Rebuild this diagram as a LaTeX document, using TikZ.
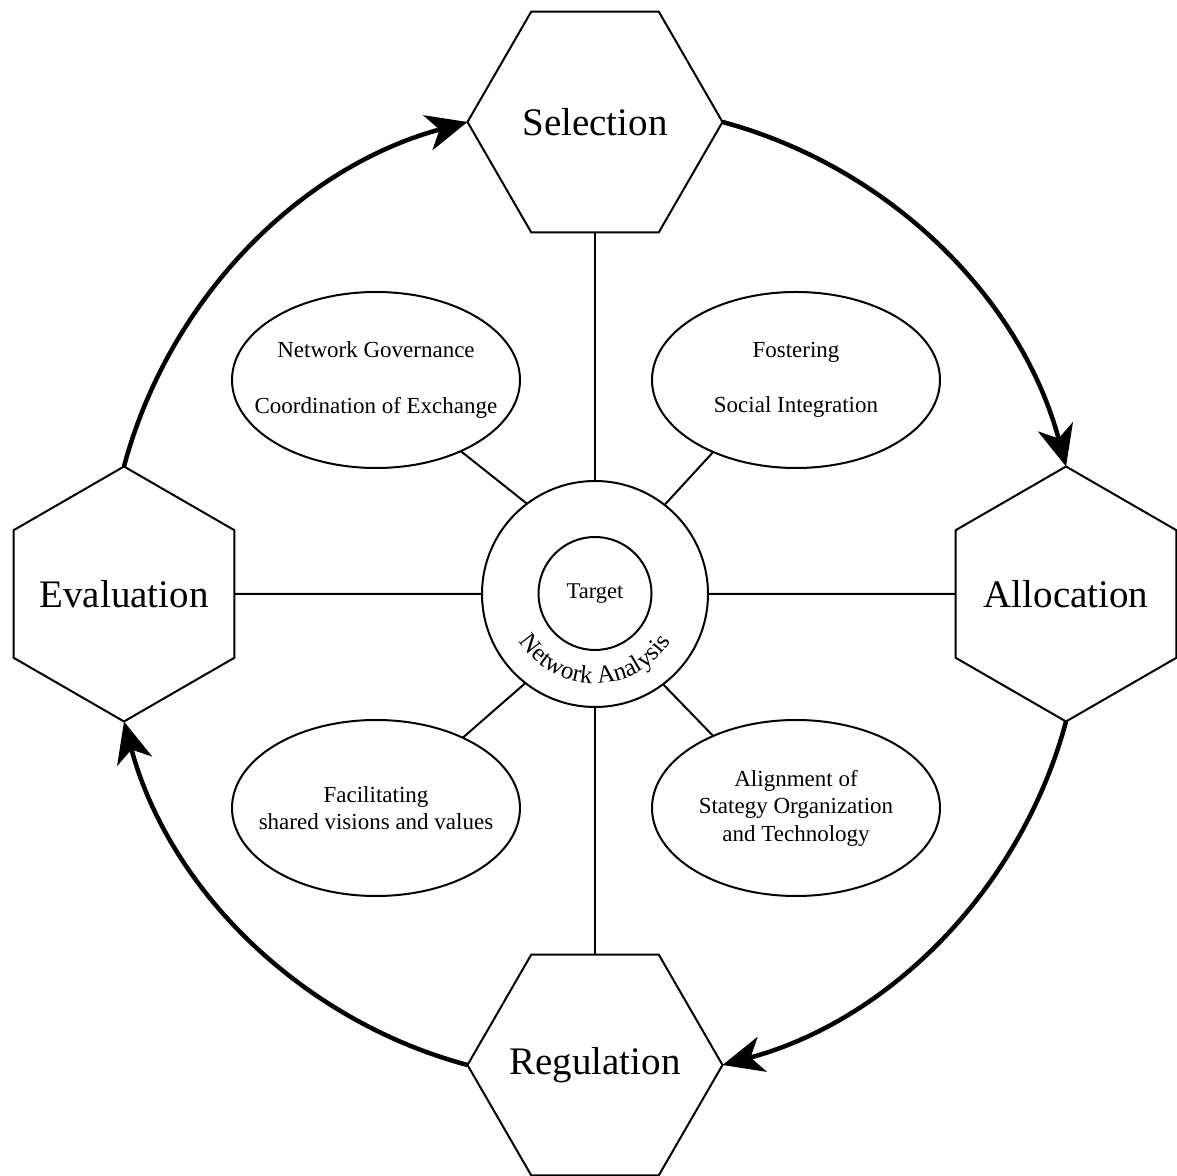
\documentclass[tikz,border=0pt]{standalone}
\usepackage{fontspec}
\setmainfont{Liberation Serif}
\usetikzlibrary{shapes.geometric, arrows.meta, decorations.text}

\begin{document}
\begin{tikzpicture}[x=1pt, y=1pt,
  hexa/.style={draw, line width=2pt, regular polygon, regular polygon sides=6,
    minimum size=255pt, inner sep=-40pt, outer sep=0pt,
    font=\fontsize{39}{39}\selectfont},
  upright/.style={shape border rotate=90},
  bubble/.style={draw, line width=2pt, ellipse, minimum width=288pt,
    minimum height=176pt, inner xsep=-40pt, inner ysep=0pt, outer sep=0pt,
    align=center, font=\fontsize{23}{27.6}\selectfont},
  ring/.style={draw, line width=2pt, circle, inner sep=0pt, outer sep=0pt},
  spoke/.style={line width=2pt},
  cyclearrow/.style={line width=4.5pt,
    -{Stealth[length=41pt, width=36pt, inset=12pt]},
    bend left=30, looseness=0.91}
]
% canvas
\fill[white] (0,0) rectangle (1177,1175);
\useasboundingbox (0,0) rectangle (1177,1175);

% central rings
\node[ring, minimum size=226pt] (na) at (595,581) {};
\node[ring, minimum size=113pt, font=\fontsize{22.5}{22.5}\selectfont] (tg) at (595,581.5) {Target};
\path[decorate, decoration={text along path, text align=center,
    text={|\fontsize{25}{25}\selectfont|Network Analysis}}]
  ([shift={(200:89.5pt)}]na.center) arc[start angle=200, end angle=340, radius=89.5pt];

% the four stages
\node[hexa] (sel) at (595,1053) {Selection};
\node[hexa] (reg) at (595,110) {Regulation};
\node[hexa, upright] (eval) at (124,581) {Evaluation};
\node[hexa, upright] (alloc) at (1066,581) {Allocation};

% the four goals
\node[bubble] (tl) at (376,795) {Network Governance\\[28pt]Coordination of Exchange};
\node[bubble] (tr) at (796,795) {Fostering\\[28pt]Social Integration};
\node[bubble] (bl) at (376,367) {Facilitating\\shared visions and values};
\node[bubble] (br) at (796,367) {Alignment of\\Stategy Organization\\and Technology};

% spokes from the centre
\draw[spoke] (na.90) -- (sel.270);
\draw[spoke] (na.270) -- (reg.90);
\draw[spoke] (na.180) -- (eval.0);
\draw[spoke] (na.0) -- (alloc.180);
\draw[spoke] (na.127.6) -- (tl.-40);
\draw[spoke] (na.52.8) -- (tr.-139);
\draw[spoke] (na.232) -- (bl.39.5);
\draw[spoke] (na.-53) -- (br.139.5);

% the cycle
\draw[cyclearrow] (eval.90) to (sel.180);
\draw[cyclearrow] (sel.0) to (alloc.90);
\draw[cyclearrow] (alloc.270) to (reg.0);
\draw[cyclearrow] (reg.180) to (eval.270);
\end{tikzpicture}
\end{document}
